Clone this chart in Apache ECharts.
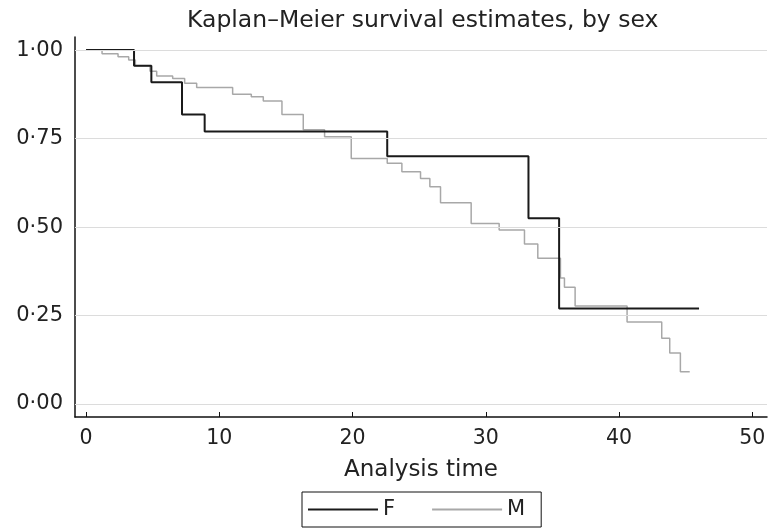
<!DOCTYPE html>
<html>
<head>
<meta charset="utf-8">
<script src="https://cdn.jsdelivr.net/npm/echarts@6/dist/echarts.min.js"></script>
<style>html,body{margin:0;padding:0;background:#fff}#c{width:775px;height:530px}</style>
</head>
<body>
<div id="c"></div>
<script>
// Female (F) Kaplan–Meier estimate: event times and survival after each time
const fTime = [0, 3.6, 4.9, 7.2, 8.9, 22.6, 33.2, 35.5, 46.0];
const fSurv = [1.00, 0.956, 0.909, 0.818, 0.770, 0.700, 0.525, 0.270, 0.270];
// Male (M) Kaplan–Meier estimate
const mTime = [0, 1.2, 2.4, 3.2, 3.7, 4.8, 5.3, 6.5, 7.4, 8.3, 11.0, 12.4, 13.3, 14.7, 16.3, 17.9, 19.9, 22.6, 23.7, 25.1, 25.8, 26.6, 28.9, 31.0, 32.9, 33.9, 35.6, 35.9, 36.7, 40.6, 43.2, 43.8, 44.6, 45.3];
const mSurv = [1.00, 0.990, 0.981, 0.972, 0.956, 0.940, 0.927, 0.920, 0.906, 0.894, 0.875, 0.868, 0.856, 0.818, 0.775, 0.755, 0.694, 0.680, 0.656, 0.637, 0.614, 0.569, 0.510, 0.492, 0.452, 0.412, 0.356, 0.330, 0.277, 0.232, 0.186, 0.144, 0.091, 0.091];
// Axis tick labels
const xTicks = [0, 10, 20, 30, 40, 50];
const yTicks = [0, 0.25, 0.5, 0.75, 1.0];
const seriesNames = ['F', 'M'];

const font = 'DejaVu Sans';
const zip = (a, b) => a.map((v, i) => [v, b[i]]);

const chart = echarts.init(document.getElementById('c'), null, {renderer: 'canvas'});
chart.setOption({
  backgroundColor: '#fff',
  animation: false,
  title: {
    text: 'Kaplan\u2013Meier survival estimates, by sex',
    left: 182, top: 4,
    textStyle: {fontFamily: font, fontSize: 23.5, fontWeight: 'normal', color: '#222'}
  },
  grid: {left: 75, right: 8, top: 37, bottom: 113, containLabel: false},
  legend: {
    data: seriesNames,
    left: 302, top: 492,
    orient: 'horizontal',
    icon: 'rect',
    itemWidth: 70, itemHeight: 2,
    itemGap: 37,
    padding: [7, 16, 7, 6],
    borderColor: '#111', borderWidth: 1,
    textStyle: {fontFamily: font, fontSize: 21, color: '#222'}
  },
  xAxis: {
    type: 'value', min: -0.83, max: 51.1,
    name: 'Analysis time', nameLocation: 'middle', nameGap: 42,
    nameTextStyle: {fontFamily: font, fontSize: 23, color: '#222'},
    axisLine: {show: true, onZero: false, lineStyle: {color: '#111', width: 1.5}},
    axisTick: {show: true, inside: true, length: 5, customValues: xTicks, lineStyle: {color: '#111'}},
    axisLabel: {customValues: xTicks, margin: 11, fontFamily: font, fontSize: 20.5, color: '#222'},
    splitLine: {show: false}
  },
  yAxis: {
    type: 'value', min: -0.0367, max: 1.037,
    axisLine: {show: true, onZero: false, lineStyle: {color: '#111', width: 1.5}},
    axisTick: {show: true, inside: true, length: 5, customValues: yTicks, lineStyle: {color: '#111'}},
    axisLabel: {customValues: yTicks, margin: 12, fontFamily: font, fontSize: 21, color: '#222',
      formatter: v => v.toFixed(2).replace('.', '\u00b7')},
    splitLine: {show: false}
  },
  series: [
    {
      name: 'grid', type: 'line', data: [], z: 1, silent: true,
      markLine: {
        silent: true, symbol: 'none', label: {show: false},
        lineStyle: {color: '#dcdcdc', width: 1, type: 'solid'},
        data: yTicks.map(v => ({yAxis: v}))
      }
    },
    {
      name: seriesNames[0], type: 'line', step: 'end', z: 4,
      data: zip(fTime, fSurv), showSymbol: false, symbol: 'none',
      itemStyle: {color: '#1a1a1a'},
      lineStyle: {color: '#1a1a1a', width: 2}
    },
    {
      name: seriesNames[1], type: 'line', step: 'end', z: 3,
      data: zip(mTime, mSurv), showSymbol: false, symbol: 'none',
      itemStyle: {color: '#a8a8a8'},
      lineStyle: {color: '#a8a8a8', width: 1.5}
    }
  ]
});
</script>
</body>
</html>
